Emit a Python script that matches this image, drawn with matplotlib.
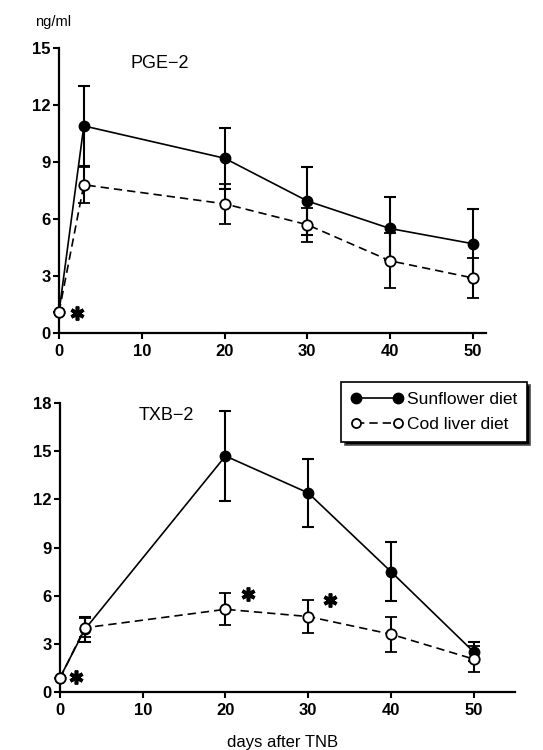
import matplotlib.pyplot as plt
from matplotlib.lines import Line2D

plt.rcParams['font.family'] = ['Liberation Sans', 'DejaVu Sans']

# Data
days = [0, 3, 20, 30, 40, 50]

pge_sun = [1.1, 10.9, 9.2, 6.95, 5.5, 4.7]
pge_sun_err = [0.0, 2.1, 1.6, 1.8, 1.65, 1.8]
pge_cod = [1.1, 7.8, 6.8, 5.7, 3.8, 2.9]
pge_cod_err = [0.0, 0.95, 1.05, 0.9, 1.45, 1.05]

txb_sun = [0.9, 3.9, 14.7, 12.4, 7.5, 2.5]
txb_sun_err = [0.0, 0.8, 2.8, 2.1, 1.85, 0.6]
txb_cod = [0.85, 4.0, 5.15, 4.7, 3.6, 2.05]
txb_cod_err = [0.0, 0.6, 1.0, 1.05, 1.1, 0.8]

# significance stars (day, value)
pge_stars = [(2.2, 1.05)]
txb_stars = [(1.9, 0.95), (22.7, 6.1), (32.6, 5.75)]

DASH = (0, (5, 3))

fig = plt.figure(figsize=(5.43, 7.5), dpi=100)
ax1 = fig.add_axes([59/543, 1 - 333/750, 427/543, 285/750])
ax2 = fig.add_axes([60/543, 1 - 692/750, 455/543, 289/750])


def draw(ax, sun, sun_err, cod, cod_err, stars):
    ax.errorbar(days, sun, yerr=sun_err, color='black', lw=1.2, marker='o',
                ms=7.5, mfc='black', mec='black', capsize=4, capthick=1.5,
                elinewidth=1.5, clip_on=False, zorder=3)
    ax.errorbar(days, cod, yerr=cod_err, color='black', lw=1.2, ls=DASH,
                marker='o', ms=7.5, mfc='white', mec='black', mew=1.3,
                capsize=4, capthick=1.5, elinewidth=1.5, clip_on=False,
                zorder=4)
    for sx, sy in stars:
        ax.plot(sx, sy, marker=(6, 2, 0), ms=10, mew=2.6, color='black',
                clip_on=False, zorder=5)
    for s in ['top', 'right']:
        ax.spines[s].set_visible(False)
    for s in ['left', 'bottom']:
        ax.spines[s].set_linewidth(1.6)
    ax.set_xticks([0, 10, 20, 30, 40, 50])
    ax.tick_params(direction='out', length=4, width=1.5, labelsize=12)
    ax.tick_params(axis='x', pad=4)
    ax.tick_params(axis='y', pad=2)


draw(ax1, pge_sun, pge_sun_err, pge_cod, pge_cod_err, pge_stars)
ax1.set_xlim(0, 51.6)
ax1.set_ylim(0, 15)
ax1.set_yticks([0, 3, 6, 9, 12, 15])
ax1.text(12.2, 14.2, 'PGE\u22122', fontsize=13, va='center', ha='center')

draw(ax2, txb_sun, txb_sun_err, txb_cod, txb_cod_err, txb_stars)
ax2.set_xlim(0, 55)
ax2.set_ylim(0, 18)
ax2.set_yticks([0, 3, 6, 9, 12, 15, 18])
ax2.text(12.8, 17.2, 'TXB\u22122', fontsize=13, va='center', ha='center')

for ax in (ax1, ax2):
    for lab in ax.get_xticklabels() + ax.get_yticklabels():
        lab.set_fontweight('bold')

handles = [
    Line2D([], [], color='black', lw=1.2, marker='o', ms=7.5, mfc='black', mec='black'),
    Line2D([], [], color='black', lw=1.2, ls=DASH, marker='o', ms=6.5, mfc='white',
           mec='black', mew=1.3),
]
leg = ax2.legend(handles, ['Sunflower diet', 'Cod liver diet'],
                 loc='upper right', bbox_to_anchor=(527/543, 1 - 382/750),
                 bbox_transform=fig.transFigure, borderaxespad=0,
                 numpoints=2, handlelength=3.0, fontsize=12.5, fancybox=False,
                 edgecolor='black', framealpha=1, borderpad=0.55,
                 labelspacing=0.6, handletextpad=0.25,
                 shadow={'ox': 2.5, 'oy': -2.5, 'facecolor': 'black', 'alpha': 1})
leg.get_frame().set_linewidth(1.2)

fig.text(35/543, 1 - 22/750, 'ng/ml', fontsize=10.5, va='center', ha='left')
fig.text(283/543, 1 - 742/750, 'days after TNB', fontsize=12, va='center', ha='center')

fig.savefig('out.png', dpi=100)
